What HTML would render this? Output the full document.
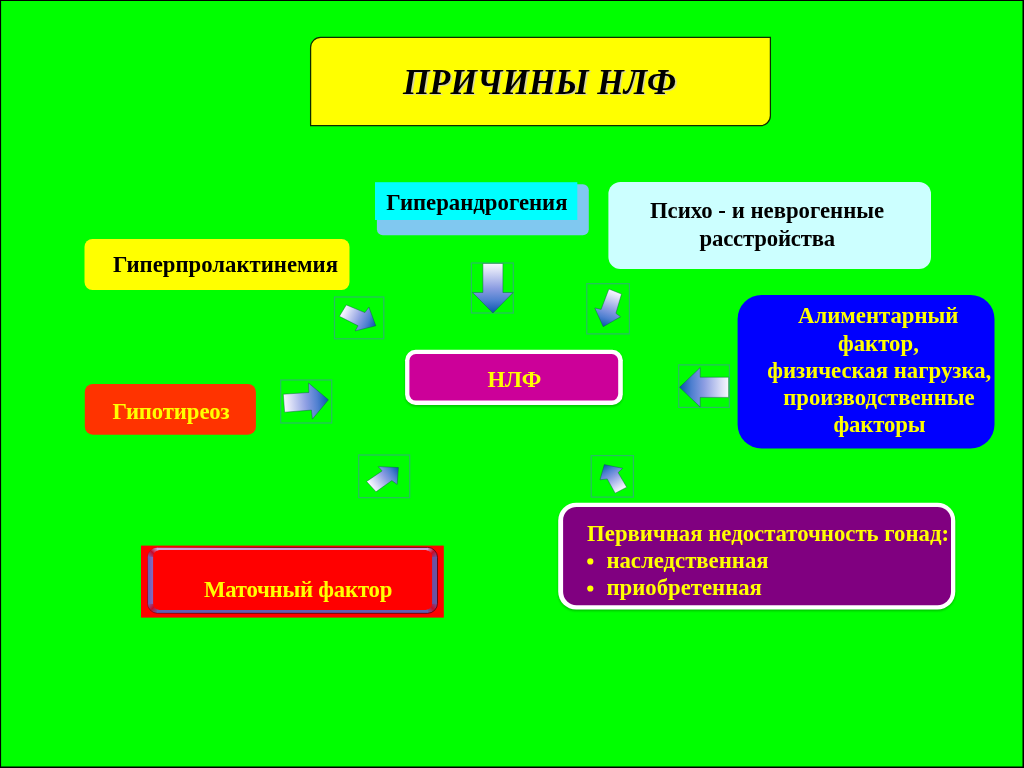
<!DOCTYPE html>
<html lang="ru">
<head>
<meta charset="utf-8">
<title>Причины НЛФ</title>
<style>
html,body{margin:0;padding:0;}
body{width:1024px;height:768px;overflow:hidden;background:#00ff00;position:relative;font-family:"Liberation Serif",serif;font-weight:bold;}
.labels{position:absolute;left:0;top:0;width:1024px;height:768px;will-change:transform;}
.t{position:absolute;white-space:pre;line-height:1;margin:0;}
svg.shapes{position:absolute;left:0;top:0;width:1024px;height:768px;}
</style>
</head>
<body>
<svg class="shapes" width="1024" height="768" viewBox="0 0 1024 768">
<defs>
<filter id="sh" x="-5%" y="-10%" width="110%" height="130%"><feGaussianBlur stdDeviation="0.9"/></filter>
<clipPath id="matc"><path clip-rule="evenodd" d="M157.5 547.4H427.5A10.0 10.0 0 0 1 437.5 557.4V603.3A10.0 10.0 0 0 1 427.5 613.3H157.5A10.0 10.0 0 0 1 147.5 603.3V557.4A10.0 10.0 0 0 1 157.5 547.4Z M159.6 550.1H425.6A6.5 6.5 0 0 1 432.1 556.6V603.4A6.5 6.5 0 0 1 425.6 609.9H159.6A6.5 6.5 0 0 1 153.1 603.4V556.6A6.5 6.5 0 0 1 159.6 550.1Z"/></clipPath>
<linearGradient id="mg0" gradientUnits="userSpaceOnUse" x1="147.5" y1="557.4" x2="157.5" y2="547.4"><stop offset="0.05" stop-color="#7668b8"/><stop offset="0.5" stop-color="#c80a28"/><stop offset="0.95" stop-color="#cfa0de"/></linearGradient>
<linearGradient id="mg1" gradientUnits="userSpaceOnUse" x1="427.5" y1="547.4" x2="437.5" y2="557.4"><stop offset="0.05" stop-color="#cfa0de"/><stop offset="0.5" stop-color="#c80a28"/><stop offset="0.95" stop-color="#6a52a2"/></linearGradient>
<linearGradient id="mg2" gradientUnits="userSpaceOnUse" x1="437.5" y1="603.3" x2="427.5" y2="613.3"><stop offset="0.05" stop-color="#6a52a2"/><stop offset="0.5" stop-color="#c80a28"/><stop offset="0.95" stop-color="#6260b0"/></linearGradient>
<linearGradient id="mg3" gradientUnits="userSpaceOnUse" x1="157.5" y1="613.3" x2="147.5" y2="603.3"><stop offset="0.05" stop-color="#6260b0"/><stop offset="0.5" stop-color="#c80a28"/><stop offset="0.95" stop-color="#7668b8"/></linearGradient>
<linearGradient id="mgo" gradientUnits="userSpaceOnUse" x1="147.5" y1="547.4" x2="207.5" y2="613.3"><stop offset="0" stop-color="#30000c" stop-opacity="0.1"/><stop offset="1" stop-color="#30000c" stop-opacity="0.75"/></linearGradient>
<linearGradient id="mgl" x1="0" y1="0" x2="1" y2="0"><stop offset="0" stop-color="#6a5cb4"/><stop offset="1" stop-color="#8a6cc0"/></linearGradient>
<linearGradient id="ag0" gradientUnits="userSpaceOnUse" x1="342.9" y1="310.6" x2="375.8" y2="325.8"><stop offset="0" stop-color="#f8f8ff"/><stop offset="0.14" stop-color="#dde1f6"/><stop offset="0.5" stop-color="#8c9de2"/><stop offset="0.75" stop-color="#4f80d0"/><stop offset="1" stop-color="#0a55ae"/></linearGradient>
<linearGradient id="ag1" gradientUnits="userSpaceOnUse" x1="492.9" y1="263.5" x2="492.9" y2="313.0"><stop offset="0" stop-color="#f8f8ff"/><stop offset="0.14" stop-color="#dde1f6"/><stop offset="0.5" stop-color="#8c9de2"/><stop offset="0.75" stop-color="#4f80d0"/><stop offset="1" stop-color="#0a55ae"/></linearGradient>
<linearGradient id="ag2" gradientUnits="userSpaceOnUse" x1="615.2" y1="291.5" x2="603.2" y2="326.7"><stop offset="0" stop-color="#f8f8ff"/><stop offset="0.14" stop-color="#dde1f6"/><stop offset="0.5" stop-color="#8c9de2"/><stop offset="0.75" stop-color="#4f80d0"/><stop offset="1" stop-color="#0a55ae"/></linearGradient>
<linearGradient id="ag3" gradientUnits="userSpaceOnUse" x1="728.6" y1="387.3" x2="679.6" y2="387.3"><stop offset="0" stop-color="#f8f8ff"/><stop offset="0.14" stop-color="#dde1f6"/><stop offset="0.5" stop-color="#8c9de2"/><stop offset="0.75" stop-color="#4f80d0"/><stop offset="1" stop-color="#0a55ae"/></linearGradient>
<linearGradient id="ag4" gradientUnits="userSpaceOnUse" x1="284.0" y1="403.2" x2="328.4" y2="399.8"><stop offset="0" stop-color="#f8f8ff"/><stop offset="0.14" stop-color="#dde1f6"/><stop offset="0.5" stop-color="#8c9de2"/><stop offset="0.75" stop-color="#4f80d0"/><stop offset="1" stop-color="#0a55ae"/></linearGradient>
<linearGradient id="ag5" gradientUnits="userSpaceOnUse" x1="371.3" y1="486.6" x2="398.4" y2="467.5"><stop offset="0" stop-color="#f8f8ff"/><stop offset="0.14" stop-color="#dde1f6"/><stop offset="0.5" stop-color="#8c9de2"/><stop offset="0.75" stop-color="#4f80d0"/><stop offset="1" stop-color="#0a55ae"/></linearGradient>
<linearGradient id="ag6" gradientUnits="userSpaceOnUse" x1="621.0" y1="490.2" x2="604.3" y2="464.6"><stop offset="0" stop-color="#f8f8ff"/><stop offset="0.14" stop-color="#dde1f6"/><stop offset="0.5" stop-color="#8c9de2"/><stop offset="0.75" stop-color="#4f80d0"/><stop offset="1" stop-color="#0a55ae"/></linearGradient>
</defs>
<path d="M320.6 37.4H770.4V115.7A10 10 0 0 1 760.4 125.7H310.6V47.4A10 10 0 0 1 320.6 37.4Z" fill="#ffff00" stroke="#0c2c00" stroke-width="1.25"/>
<rect x="84.5" y="238.9" width="265.00" height="51.10" rx="8" ry="8" fill="#ffff00"/>
<rect x="376.9" y="184.3" width="211.90" height="50.90" rx="6" ry="6" fill="#80c8f0"/>
<rect x="375" y="182.2" width="202.30" height="37.80" rx="0" ry="0" fill="#00ffff"/>
<rect x="608.4" y="182" width="322.60" height="87.00" rx="12" ry="12" fill="#ccffff"/>
<rect x="737.6" y="295" width="256.90" height="153.50" rx="24" ry="24" fill="#0000ff"/>
<rect x="405.1" y="351.3" width="217.70" height="55.10" rx="10.5" ry="10.5" fill="#007800" opacity="0.45" filter="url(#sh)"/>
<rect x="405.1" y="349.8" width="217.70" height="55.10" rx="10.5" ry="10.5" fill="#ffffff"/>
<rect x="409.4" y="354.1" width="208.80" height="46.50" rx="6.5" ry="6.5" fill="#cc0099"/>
<rect x="84.8" y="384" width="171.10" height="50.70" rx="8" ry="8" fill="#ff3300"/>
<rect x="141" y="545.6" width="302.80" height="72.00" rx="0" ry="0" fill="#ff0000"/>
<g clip-path="url(#matc)">
<rect x="147.5" y="547.4" width="10.0" height="10.0" fill="url(#mg0)"/>
<rect x="427.5" y="547.4" width="10.0" height="10.0" fill="url(#mg1)"/>
<rect x="427.5" y="603.3" width="10.0" height="10.0" fill="url(#mg2)"/>
<rect x="147.5" y="603.3" width="10.0" height="10.0" fill="url(#mg3)"/>
<rect x="156.9" y="547.4" width="271.2" height="3.70" fill="#cfa0de"/>
<rect x="156.9" y="608.9" width="271.2" height="4.40" fill="#6260b0"/>
<rect x="147.5" y="556.8" width="6.60" height="47.10" fill="url(#mgl)"/>
<rect x="431.1" y="556.8" width="6.40" height="47.10" fill="#6a52a2"/>
</g>
<path d="M157.5 547.4H427.5A10.0 10.0 0 0 1 437.5 557.4V603.3A10.0 10.0 0 0 1 427.5 613.3H157.5A10.0 10.0 0 0 1 147.5 603.3V557.4A10.0 10.0 0 0 1 157.5 547.4Z" fill="none" stroke="url(#mgo)" stroke-width="0.9"/>
<rect x="558.2" y="504.2" width="397.10" height="106.80" rx="18" ry="18" fill="#007800" opacity="0.45" filter="url(#sh)"/>
<rect x="558.2" y="502.7" width="397.10" height="106.80" rx="18" ry="18" fill="#ffffff"/>
<rect x="563.1" y="506.9" width="387.90" height="98.40" rx="13.5" ry="13.5" fill="#800080"/>
<circle cx="590.3" cy="561.4" r="3.1" fill="#ffff00"/><circle cx="590.3" cy="588.5" r="3.1" fill="#ffff00"/>
<rect x="334.5" y="297.0" width="49.3" height="41.8" fill="none" stroke="#28bc64" stroke-width="1.2"/>
<polygon points="346.3,304.9 364.9,312.6 368.9,307.2 375.8,325.8 355.2,330.9 358.1,325.8 339.4,316.3" fill="url(#ag0)" stroke="#0c5a48" stroke-opacity="0.5" stroke-width="0.9" stroke-linejoin="miter"/>
<rect x="471.4" y="263.0" width="41.9" height="50.0" fill="none" stroke="#28bc64" stroke-width="1.2"/>
<polygon points="502.9,263.5 502.9,292.5 513.1,292.5 492.9,313.0 472.6,292.5 482.9,292.5 482.9,263.5" fill="url(#ag1)" stroke="#0c5a48" stroke-opacity="0.5" stroke-width="0.9" stroke-linejoin="miter"/>
<rect x="586.8" y="283.7" width="42.6" height="50.2" fill="none" stroke="#28bc64" stroke-width="1.2"/>
<polygon points="621.5,294.0 615.9,313.3 620.5,316.8 603.2,326.7 594.8,308.0 601.1,309.4 608.9,289.0" fill="url(#ag2)" stroke="#0c5a48" stroke-opacity="0.5" stroke-width="0.9" stroke-linejoin="miter"/>
<rect x="678.7" y="364.9" width="50.7" height="42.5" fill="none" stroke="#28bc64" stroke-width="1.2"/>
<polygon points="728.6,397.4 700.2,397.4 700.2,407.0 679.6,387.3 700.2,367.6 700.2,377.2 728.6,377.2" fill="url(#ag3)" stroke="#0c5a48" stroke-opacity="0.5" stroke-width="0.9" stroke-linejoin="miter"/>
<rect x="280.7" y="380.0" width="51.0" height="43.0" fill="none" stroke="#28bc64" stroke-width="1.2"/>
<polygon points="283.3,394.2 308.9,392.5 308.5,383.0 328.4,399.8 312.4,419.1 311.4,410.1 284.6,412.2" fill="url(#ag4)" stroke="#0c5a48" stroke-opacity="0.5" stroke-width="0.9" stroke-linejoin="miter"/>
<rect x="358.7" y="455.0" width="51.0" height="42.7" fill="none" stroke="#28bc64" stroke-width="1.2"/>
<polygon points="366.6,481.5 382.1,470.9 378.3,466.6 398.4,467.5 397.2,484.4 391.8,480.6 376.0,491.8" fill="url(#ag5)" stroke="#0c5a48" stroke-opacity="0.5" stroke-width="0.9" stroke-linejoin="miter"/>
<rect x="591.2" y="455.6" width="42.2" height="41.5" fill="none" stroke="#28bc64" stroke-width="1.2"/>
<polygon points="626.7,487.2 618.1,472.6 622.6,468.3 604.3,464.6 600.0,479.8 607.2,478.9 615.2,493.2" fill="url(#ag6)" stroke="#0c5a48" stroke-opacity="0.5" stroke-width="0.9" stroke-linejoin="miter"/>
<path d="M0 0H1024V768H0Z M1.1 1.1V766.4H1022.5V1.1Z" fill="#000" fill-rule="evenodd"/>
</svg>
<div class="labels">
<div class="t" id="t-title" style="left:403.38px;top:66px;font-size:34.8px;color:#000;font-style:italic;text-shadow:1.7px 1.4px 0.4px #d6d69c;transform-origin:0 0;transform:scaleX(0.9807);">ПРИЧИНЫ НЛФ</div>
<div class="t" id="t-prl" style="left:112.90px;top:254px;font-size:22.76px;color:#000;">Гиперпролактинемия</div>
<div class="t" id="t-and" style="left:386.30px;top:192px;font-size:22.76px;color:#000;">Гиперандрогения</div>
<div class="t" id="t-psy1" style="left:649.90px;top:200px;font-size:22.76px;color:#000;">Психо - и неврогенные</div>
<div class="t" id="t-psy2" style="left:699.60px;top:228px;font-size:22.76px;letter-spacing:-0.2px;color:#000;">расстройства</div>
<div class="t" id="t-al1" style="left:798.00px;top:305px;font-size:22.76px;color:#ffff00;">Алиментарный</div>
<div class="t" id="t-al2" style="left:838.00px;top:333px;font-size:22.76px;color:#ffff00;">фактор,</div>
<div class="t" id="t-al3" style="left:767.20px;top:360px;font-size:22.76px;color:#ffff00;">физическая нагрузка,</div>
<div class="t" id="t-al4" style="left:783.20px;top:387px;font-size:22.76px;color:#ffff00;">производственные</div>
<div class="t" id="t-al5" style="left:833.50px;top:414px;font-size:22.76px;letter-spacing:-0.15px;color:#ffff00;">факторы</div>
<div class="t" id="t-nlf" style="left:487.40px;top:369px;font-size:22.76px;color:#ffff00;">НЛФ</div>
<div class="t" id="t-hyp" style="left:112.40px;top:401px;font-size:22.76px;letter-spacing:-0.12px;color:#ffff00;">Гипотиреоз</div>
<div class="t" id="t-mat" style="left:204.00px;top:579px;font-size:22.76px;letter-spacing:-0.23px;color:#ffff00;">Маточный фактор</div>
<div class="t" id="t-gon1" style="left:587.10px;top:523px;font-size:22.76px;color:#ffff00;">Первичная недостаточность гонад:</div>
<div class="t" id="t-gon2" style="left:606.40px;top:550px;font-size:22.76px;color:#ffff00;">наследственная</div>
<div class="t" id="t-gon3" style="left:606.40px;top:577px;font-size:22.76px;color:#ffff00;">приобретенная</div>
</div>
</body>
</html>
